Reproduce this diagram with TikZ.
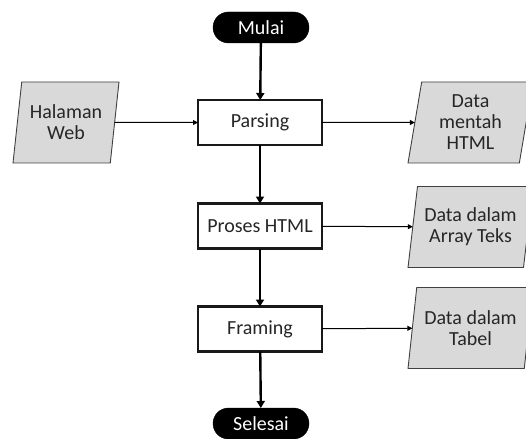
\documentclass[tikz,border=0pt]{standalone}
\usepackage{fontspec}
\setmainfont{Carlito}
\usetikzlibrary{shapes.geometric,shapes.misc,arrows.meta}
\begin{document}
\begin{tikzpicture}[x=1pt,y=-1pt,
  every node/.style={font=\fontsize{20}{21}\selectfont, text=black!85},
  pill/.style={rounded rectangle, fill=black, draw=black, minimum width=96pt, minimum height=31pt, inner sep=0pt, outer sep=0pt, text=white},
  procbox/.style={rectangle, draw=black!90, line width=2.4pt, fill=white, minimum width=124pt, minimum height=45pt, inner sep=0pt, outer sep=0pt},
  iobox/.style={trapezium, trapezium left angle=76, trapezium right angle=104, trapezium stretches body, draw=black!75, line width=0.9pt, fill=black!15, minimum height=81pt, inner sep=0pt, outer sep=0pt, align=center},
  thickarr/.style={line width=2.4pt, -{Triangle[length=7pt,width=8pt]}},
  thinarr/.style={line width=1pt, -{Triangle[length=5pt,width=5pt]}}
]
\useasboundingbox (0,0) rectangle (526,438);
\node[pill] (mulai) at (261,27.5) {Mulai};
\node[procbox] (parsing) at (260,122.5) {Parsing};
\node[procbox] (proses) at (260,226) {Proses HTML};
\node[procbox] (framing) at (260,329) {Framing};
\node[pill] (selesai) at (261,423.5) {Selesai};
\node[iobox, minimum width=106pt] (web) at (66,122.5) {Halaman\\Web};
\node[iobox, minimum width=125pt] (mentah) at (470.5,122.5) {Data\\mentah\\HTML};
\node[iobox, minimum width=125pt] (array) at (470.5,227) {Data dalam\\Array Teks};
\node[iobox, minimum width=125pt] (tabel) at (470.5,328) {Data dalam\\Tabel};
\draw[thickarr] (mulai) -- (parsing);
\draw[thickarr] (parsing) -- (proses);
\draw[thickarr] (proses) -- (framing);
\draw[thickarr] (framing) -- (selesai);
\draw[thinarr] (web) -- (parsing);
\draw[thinarr] (parsing) -- (mentah);
\draw[thinarr] (proses) -- (array);
\draw[thinarr] (framing) -- (tabel);
\end{tikzpicture}
\end{document}
